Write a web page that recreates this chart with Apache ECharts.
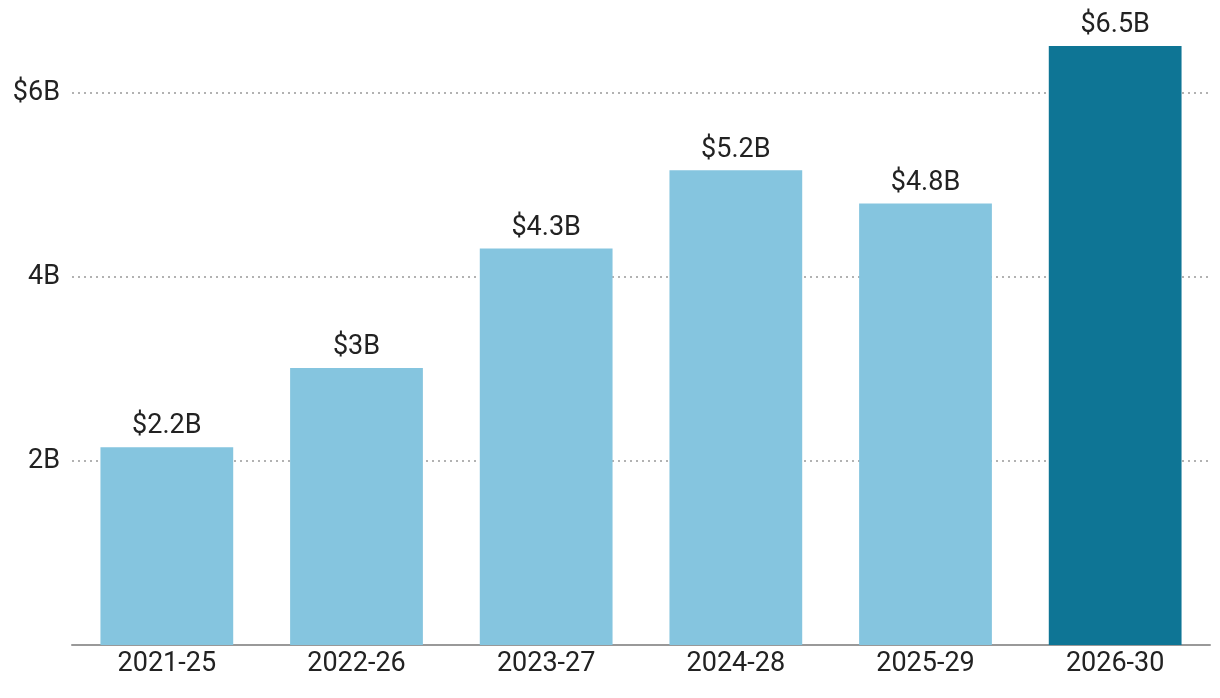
<!DOCTYPE html>
<html><head><meta charset="utf-8">
<script src="https://cdn.jsdelivr.net/npm/echarts@6/dist/echarts.min.js"></script>
<style>html,body{margin:0;padding:0;background:#fff}#c{width:1220px;height:698px}</style>
</head><body><div id="c"></div>
<script>
const categories = ['2021-25','2022-26','2023-27','2024-28','2025-29','2026-30'];
const values = [2.15, 3.01, 4.31, 5.16, 4.80, 6.51];
const valueLabels = ['$2.2B','$3B','$4.3B','$5.2B','$4.8B','$6.5B'];
const tickLabels = {2:'2B', 4:'4B', 6:'$6B'};
const highlightIndex = 5;

const chart = echarts.init(document.getElementById('c'));
const font = 'Roboto, "Noto Sans", sans-serif';
chart.setOption({
  animation:false,
  grid:{left:72, right:10, top:1, bottom:53},
  xAxis:{type:'category', data:categories,
    axisLine:{lineStyle:{color:'#999', width:2}},
    axisTick:{show:false},
    axisLabel:{color:'#222', fontSize:27, fontFamily:font, margin:6}},
  yAxis:{type:'value', min:0, max:7, interval:2,
    axisLine:{show:false}, axisTick:{show:false},
    axisLabel:{color:'#222', fontSize:27, fontFamily:font, margin:12, padding:[6,0,0,0],
      formatter:v=>tickLabels[v] ?? ''},
    splitLine:{showMaxLine:false, showMinLine:false, lineStyle:{color:'#999', type:[2,4], width:1.5}}},
  series:[{type:'bar', barWidth:'70%',
    data: values.map((v,i)=>({value:v, itemStyle:{color: i===highlightIndex ? '#0E7595' : '#85C5DF'}})),
    label:{show:true, position:'top', distance:7, color:'#222', fontSize:27, fontFamily:font,
      formatter:p=>valueLabels[p.dataIndex]}}]
});
</script></body></html>
